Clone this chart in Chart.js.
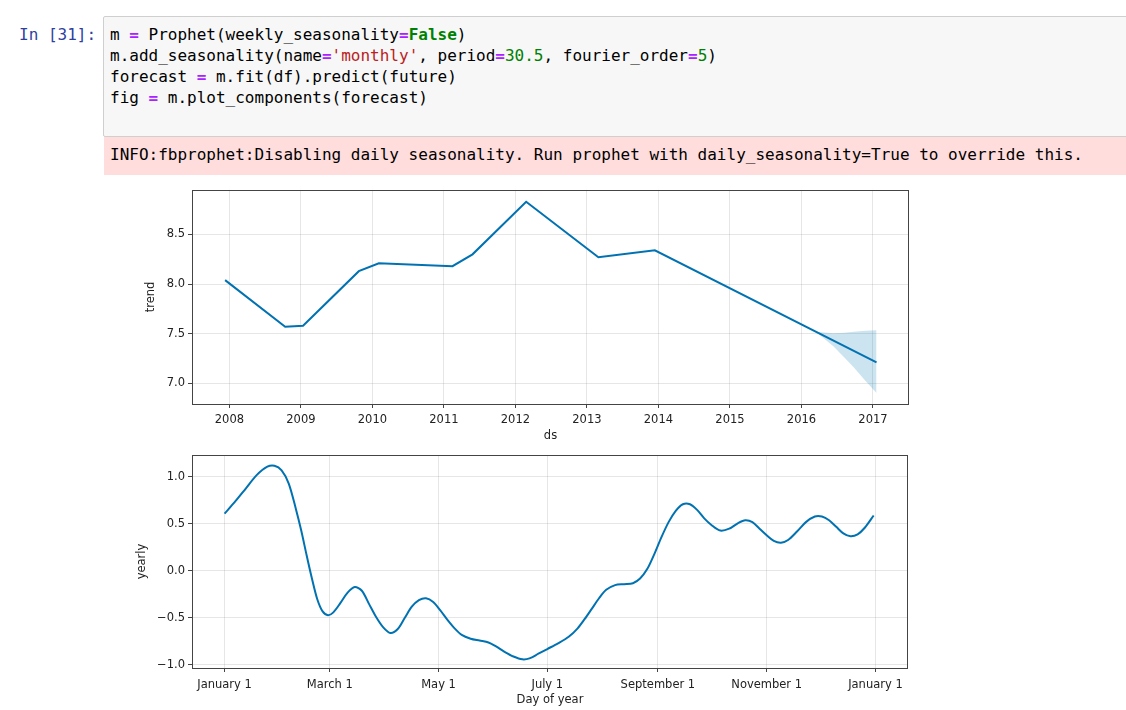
<!DOCTYPE html>
<html>
<head>
<meta charset="utf-8">
<script src="https://cdn.jsdelivr.net/npm/chart.js@4.4.0/dist/chart.umd.min.js"></script>
<style>
  html, body { margin: 0; padding: 0; background: #fff; overflow: hidden; width: 1126px; height: 710px; }
  .mono { font-family: "DejaVu Sans Mono", monospace; font-size: 16px; line-height: 21px; }
  #prompt { position: absolute; left: 19px; top: 24px; color: #303F9F; white-space: pre; }
  #cell { position: absolute; left: 103px; top: 16px; width: 1060px; height: 119px;
          background: #f7f7f7; border: 1px solid #cfcfcf; border-radius: 2px; }
  #cell pre { margin: 0; padding: 7px 0 0 6px; color: #000; }
  #out { position: absolute; left: 104px; top: 137px; width: 1060px; height: 38px; background: #fdd; }
  #out pre { margin: 0; padding: 7px 0 0 6px; color: #000; }
  .o { color: #AA22FF; font-weight: bold; }
  .k { color: #008000; font-weight: bold; }
  .s { color: #BA2121; }
  .n { color: #008000; }
  canvas { position: absolute; }
  #trendChart { left: 130px; top: 180px; }
  #yearlyChart { left: 130px; top: 445px; }
</style>
</head>
<body>
<div id="prompt" class="mono">In [31]:</div>
<div id="cell"><pre class="mono">m <span class="o">=</span> Prophet(weekly_seasonality<span class="o">=</span><span class="k">False</span>)
m.add_seasonality(name<span class="o">=</span><span class="s">'monthly'</span>, period<span class="o">=</span><span class="n">30.5</span>, fourier_order<span class="o">=</span><span class="n">5</span>)
forecast <span class="o">=</span> m.fit(df).predict(future)
fig <span class="o">=</span> m.plot_components(forecast)</pre></div>
<div id="out"><pre class="mono">INFO:fbprophet:Disabling daily seasonality. Run prophet with daily_seasonality=True to override this.</pre></div>
<canvas id="trendChart" width="790" height="270"></canvas>
<canvas id="yearlyChart" width="790" height="265"></canvas>
<script>
// trend component (x in fractional years)
const trendX = [2007.94, 2008.78, 2009.03, 2009.81, 2010.09, 2011.12, 2011.40, 2012.15, 2013.16, 2013.95, 2017.05];
const trendY = [8.04, 7.57, 7.58, 8.13, 8.21, 8.18, 8.30, 8.83, 8.27, 8.34, 7.21];
// uncertainty band of the forecast
const bandX = [2016.2, 2016.45, 2016.6, 2016.73, 2016.9, 2017.05];
const bandUpper = [7.52, 7.505, 7.51, 7.52, 7.53, 7.535];
const bandLower = [7.52, 7.37, 7.26, 7.16, 7.02, 6.90];
const yearTicks = [2008, 2009, 2010, 2011, 2012, 2013, 2014, 2015, 2016, 2017];
const trendYTicks = [7.0, 7.5, 8.0, 8.5];

// yearly seasonality (x = day of year)
const yearDays = [0, 6, 12, 18, 24, 28, 32, 36, 40, 43, 46, 49, 52, 55, 58, 61, 65, 69, 73, 77, 81, 85, 89, 93,
                  97, 101, 105, 109, 113, 117, 121, 125, 129, 133, 138, 143, 148, 152, 157, 162, 167, 171, 176,
                  181, 187, 193, 198, 202, 206, 210, 214, 219, 224, 229, 233, 237, 241, 245, 249, 253, 257, 261,
                  265, 269, 273, 278, 283, 288, 292, 296, 300, 304, 308, 312, 316, 321, 326, 331, 335, 339, 343,
                  347, 351, 355, 359, 364];
const yearlyVals = [0.61, 0.74, 0.88, 1.02, 1.11, 1.12, 1.07, 0.93, 0.66, 0.43, 0.17, -0.08, -0.30, -0.43, -0.47,
                    -0.44, -0.34, -0.23, -0.17, -0.21, -0.35, -0.49, -0.60, -0.66, -0.62, -0.50, -0.38, -0.31,
                    -0.29, -0.33, -0.42, -0.52, -0.61, -0.68, -0.72, -0.74, -0.76, -0.80, -0.86, -0.91, -0.94,
                    -0.93, -0.88, -0.83, -0.77, -0.70, -0.61, -0.51, -0.40, -0.29, -0.20, -0.15, -0.14, -0.13,
                    -0.08, 0.02, 0.18, 0.36, 0.52, 0.64, 0.71, 0.71, 0.65, 0.56, 0.49, 0.43, 0.45, 0.51, 0.54,
                    0.52, 0.45, 0.38, 0.32, 0.30, 0.33, 0.42, 0.52, 0.58, 0.58, 0.54, 0.47, 0.40, 0.37, 0.39,
                    0.46, 0.59];
const monthTickDays = [0, 59, 120, 181, 243, 304, 365];
const monthTickLabels = ['January 1', 'March 1', 'May 1', 'July 1', 'September 1', 'November 1', 'January 1'];
const yearlyYTicks = [-1.0, -0.5, 0.0, 0.5, 1.0];

const BLUE = '#0072B2';
const TEXT = '#222';
const GRID = 'rgba(128,128,128,0.2)';
const font = { family: 'DejaVu Sans', size: 11.5 };

const frame = {
  id: 'frame',
  afterDraw(chart) {
    const a = chart.chartArea, c = chart.ctx;
    c.save();
    c.strokeStyle = '#444';
    c.lineWidth = 1;
    c.strokeRect(Math.round(a.left) + 0.5, Math.round(a.top) + 0.5,
                 Math.round(a.right - a.left) - 1, Math.round(a.bottom - a.top));
    c.restore();
  }
};

function fmt(v) {
  return v < 0 ? '\u2212' + Math.abs(v).toFixed(1) : v.toFixed(1);
}

function axisGrid() {
  return { color: GRID, lineWidth: 1, tickColor: '#444', tickLength: 4 };
}

Chart.defaults.color = TEXT;

new Chart(document.getElementById('trendChart'), {
  type: 'line',
  data: {
    datasets: [
      {
        data: bandX.map((x, i) => ({ x: x, y: bandLower[i] })),
        borderWidth: 0, borderColor: 'rgba(0,0,0,0)', pointRadius: 0,
        backgroundColor: 'rgba(0,114,178,0.2)', fill: '+1'
      },
      {
        data: bandX.map((x, i) => ({ x: x, y: bandUpper[i] })),
        borderWidth: 0, borderColor: 'rgba(0,0,0,0)', pointRadius: 0, fill: false
      },
      {
        data: trendX.map((x, i) => ({ x: x, y: trendY[i] })),
        borderColor: BLUE, borderWidth: 2, pointRadius: 0, fill: false, tension: 0
      }
    ]
  },
  options: {
    responsive: false,
    animation: false,
    layout: { padding: { top: 8, right: 11, left: 0, bottom: 0 } },
    plugins: { legend: { display: false }, tooltip: { enabled: false } },
    scales: {
      x: {
        type: 'linear', min: 2007.477, max: 2017.504,
        afterBuildTicks: s => { s.ticks = yearTicks.map(v => ({ value: v })); },
        afterFit: s => { s.height = 46; },
        ticks: { font: font, padding: 5, maxRotation: 0, callback: v => String(v) },
        grid: axisGrid(), border: { display: false },
        title: { display: true, text: 'ds', font: font, padding: { top: 0, bottom: 7 } }
      },
      y: {
        min: 6.79, max: 8.95,
        afterBuildTicks: s => { s.ticks = trendYTicks.map(v => ({ value: v })); },
        afterFit: s => { s.width = 62; },
        ticks: { font: font, padding: 3, callback: v => fmt(v) },
        grid: axisGrid(), border: { display: false },
        title: { display: true, text: 'trend', font: font, padding: { top: 14, bottom: 0 } }
      }
    }
  },
  plugins: [frame]
});

new Chart(document.getElementById('yearlyChart'), {
  type: 'line',
  data: {
    datasets: [{
      data: yearDays.map((d, i) => ({ x: d, y: yearlyVals[i] })),
      borderColor: BLUE, borderWidth: 2, pointRadius: 0, fill: false, tension: 0.3
    }]
  },
  options: {
    responsive: false,
    animation: false,
    layout: { padding: { top: 10, right: 12, left: 0, bottom: 0 } },
    plugins: { legend: { display: false }, tooltip: { enabled: false } },
    scales: {
      x: {
        type: 'linear', min: -18.25, max: 383.25,
        afterBuildTicks: s => { s.ticks = monthTickDays.map(v => ({ value: v })); },
        afterFit: s => { s.height = 42; },
        ticks: {
          font: font, padding: 6, maxRotation: 0, autoSkip: false,
          callback: (v, i) => monthTickLabels[i]
        },
        grid: axisGrid(), border: { display: false },
        title: { display: true, text: 'Day of year', font: font, padding: { top: 0, bottom: 3 } }
      },
      y: {
        min: -1.032, max: 1.234,
        afterBuildTicks: s => { s.ticks = yearlyYTicks.map(v => ({ value: v })); },
        afterFit: s => { s.width = 62; },
        ticks: { font: font, padding: 3, callback: v => fmt(v) },
        grid: axisGrid(), border: { display: false },
        title: { display: true, text: 'yearly', font: font, padding: { top: 5, bottom: 0 } }
      }
    }
  },
  plugins: [frame]
});
</script>
</body>
</html>
